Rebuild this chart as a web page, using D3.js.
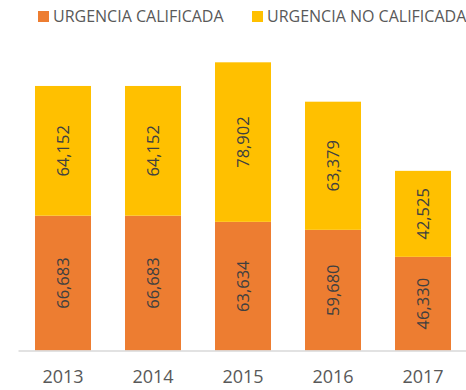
<!DOCTYPE html>
<html>
<head>
<meta charset="utf-8">
<script src="https://cdn.jsdelivr.net/npm/d3@7/dist/d3.min.js"></script>
<style>
  html, body { margin: 0; padding: 0; background: #fff; overflow: hidden; }
  svg { display: block; }
</style>
</head>
<body>
<svg id="chart" width="466" height="390"></svg>
<script>
// Yearly counts of urgent care visits, split by qualification
const years = ["2013", "2014", "2015", "2016", "2017"];
const calificada = [66683, 66683, 63634, 59680, 46330];
const noCalificada = [64152, 64152, 78902, 63379, 42525];
const seriesNames = ["URGENCIA CALIFICADA", "URGENCIA NO CALIFICADA"];
const seriesColors = ["#ED7D31", "#FFC000"];

const svg = d3.select("#chart");
const font = "'Open Sans', 'Liberation Sans', sans-serif";
const fmt = d3.format(",");

const baseY = 350.5;
const x = d3.scaleBand()
  .domain(years)
  .range([18, 468])
  .paddingInner(34 / 90)
  .paddingOuter(17 / 90);
const y = d3.scaleLinear()
  .domain([0, 160000])
  .range([baseY, baseY - 323.5]);

const rows = years.map((yr, i) => ({ year: yr, cal: calificada[i], nocal: noCalificada[i] }));
const stacked = d3.stack().keys(["cal", "nocal"])(rows);

const groups = svg.selectAll("g.series")
  .data(stacked)
  .join("g")
  .attr("class", "series")
  .attr("fill", (d, i) => seriesColors[i]);

groups.selectAll("rect")
  .data(d => d)
  .join("rect")
  .attr("x", d => x(d.data.year))
  .attr("width", x.bandwidth())
  .attr("y", d => y(d[1]))
  .attr("height", d => y(d[0]) - y(d[1]));

// Value labels, rotated inside each segment
groups.selectAll("text")
  .data((d, i) => d.map(v => ({ v, key: stacked[i].key })))
  .join("text")
  .attr("transform", d => {
    const cx = x(d.v.data.year) + x.bandwidth() / 2;
    const cy = (y(d.v[0]) + y(d.v[1])) / 2;
    return `translate(${cx},${cy}) rotate(-90)`;
  })
  .attr("text-anchor", "middle")
  .attr("dy", "0.35em")
  .attr("fill", "#404040")
  .style("font-family", font)
  .style("font-size", "16.5px")
  .text(d => fmt(d.v.data[d.key]));

// Category axis
const xAxis = svg.append("g")
  .attr("transform", `translate(0,${baseY})`)
  .call(d3.axisBottom(x).tickSize(0).tickPadding(20));
xAxis.select(".domain").attr("stroke", "#d9d9d9").attr("stroke-width", 1.5);
xAxis.selectAll("text")
  .attr("fill", "#595959")
  .style("font-family", font)
  .style("font-size", "18px");

// Legend
const legend = svg.append("g");
const legendX = [38, 252];
seriesNames.forEach((name, i) => {
  legend.append("rect")
    .attr("x", legendX[i]).attr("y", 11)
    .attr("width", 11).attr("height", 11)
    .attr("fill", seriesColors[i]);
  legend.append("text")
    .attr("x", legendX[i] + 15).attr("y", 22.3)
    .attr("fill", "#595959")
    .style("font-family", font)
    .style("font-size", "16px")
    .text(name);
});
</script>
</body>
</html>
